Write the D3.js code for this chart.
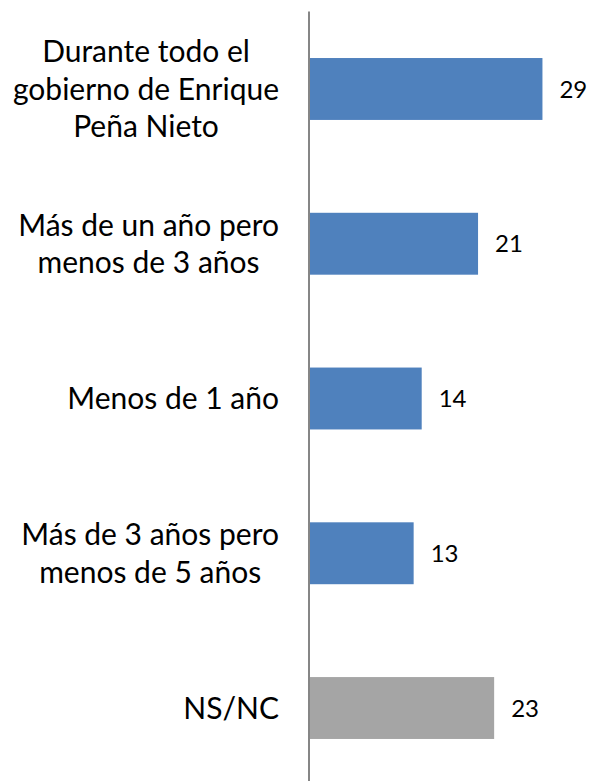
<!DOCTYPE html>
<html>
<head>
<meta charset="utf-8">
<script src="https://cdn.jsdelivr.net/npm/d3@7"></script>
<style>
  body { margin: 0; background: #fff; }
  svg { display: block; }
  text { font-family: Lato, "Open Sans", sans-serif; fill: #000; }
</style>
</head>
<body>
<svg width="589" height="781"></svg>
<script>
// categories (one entry per bar, each split into label lines)
const categories = [
  ["Durante todo el", "gobierno de Enrique", "Peña Nieto"],
  ["Más de un año pero", "menos de 3 años"],
  ["Menos de 1 año"],
  ["Más de 3 años pero", "menos de 5 años"],
  ["NS/NC"]
];
const values = [29, 21, 14, 13, 23];
const colors = ["#4F81BD", "#4F81BD", "#4F81BD", "#4F81BD", "#A5A5A5"];

const width = 589, height = 781;
const svg = d3.select("svg");

const ids = d3.range(categories.length);

let y = d3.scaleBand()
    .domain(ids)
    .range([11.6, 785.4])
    .paddingInner(0.6)
    .paddingOuter(0.3);

let x = d3.scaleLinear()
    .domain([0, 35])
    .range([309, 590.75]);

// bars
svg.selectAll("rect.bar")
  .data(ids)
  .join("rect")
    .attr("class", "bar")
    .attr("x", x(0))
    .attr("y", i => y(i))
    .attr("width", i => x(values[i]) - x(0))
    .attr("height", y.bandwidth())
    .attr("fill", i => colors[i]);

// vertical axis line
svg.append("line")
    .attr("x1", x(0)).attr("x2", x(0))
    .attr("y1", 11.6).attr("y2", height)
    .attr("stroke", "#868686")
    .attr("stroke-width", 2);

// value labels
svg.selectAll("text.val")
  .data(ids)
  .join("text")
    .attr("class", "val")
    .attr("x", i => x(values[i]) + 17)
    .attr("y", i => y(i) + y.bandwidth() / 2)
    .attr("dy", "0.36em")
    .style("font-size", "24px")
    .text(i => values[i]);

// category labels: lines centred inside a block whose right edge is fixed
const labelRight = 279;
const lineH = 37.5;
ids.forEach(i => {
  const lines = categories[i];
  const g = svg.append("g");
  const cy = y(i) + y.bandwidth() / 2;
  const texts = g.selectAll("text")
    .data(lines)
    .join("text")
      .style("font-size", "30px")
      .attr("text-anchor", "middle")
      .attr("dy", "0.36em")
      .attr("y", (d, k) => cy + (k - (lines.length - 1) / 2) * lineH)
      .text(d => d);
  let maxW = 0;
  texts.each(function() { maxW = Math.max(maxW, this.getComputedTextLength()); });
  texts.attr("x", labelRight - maxW / 2);
});
</script>
</body>
</html>
